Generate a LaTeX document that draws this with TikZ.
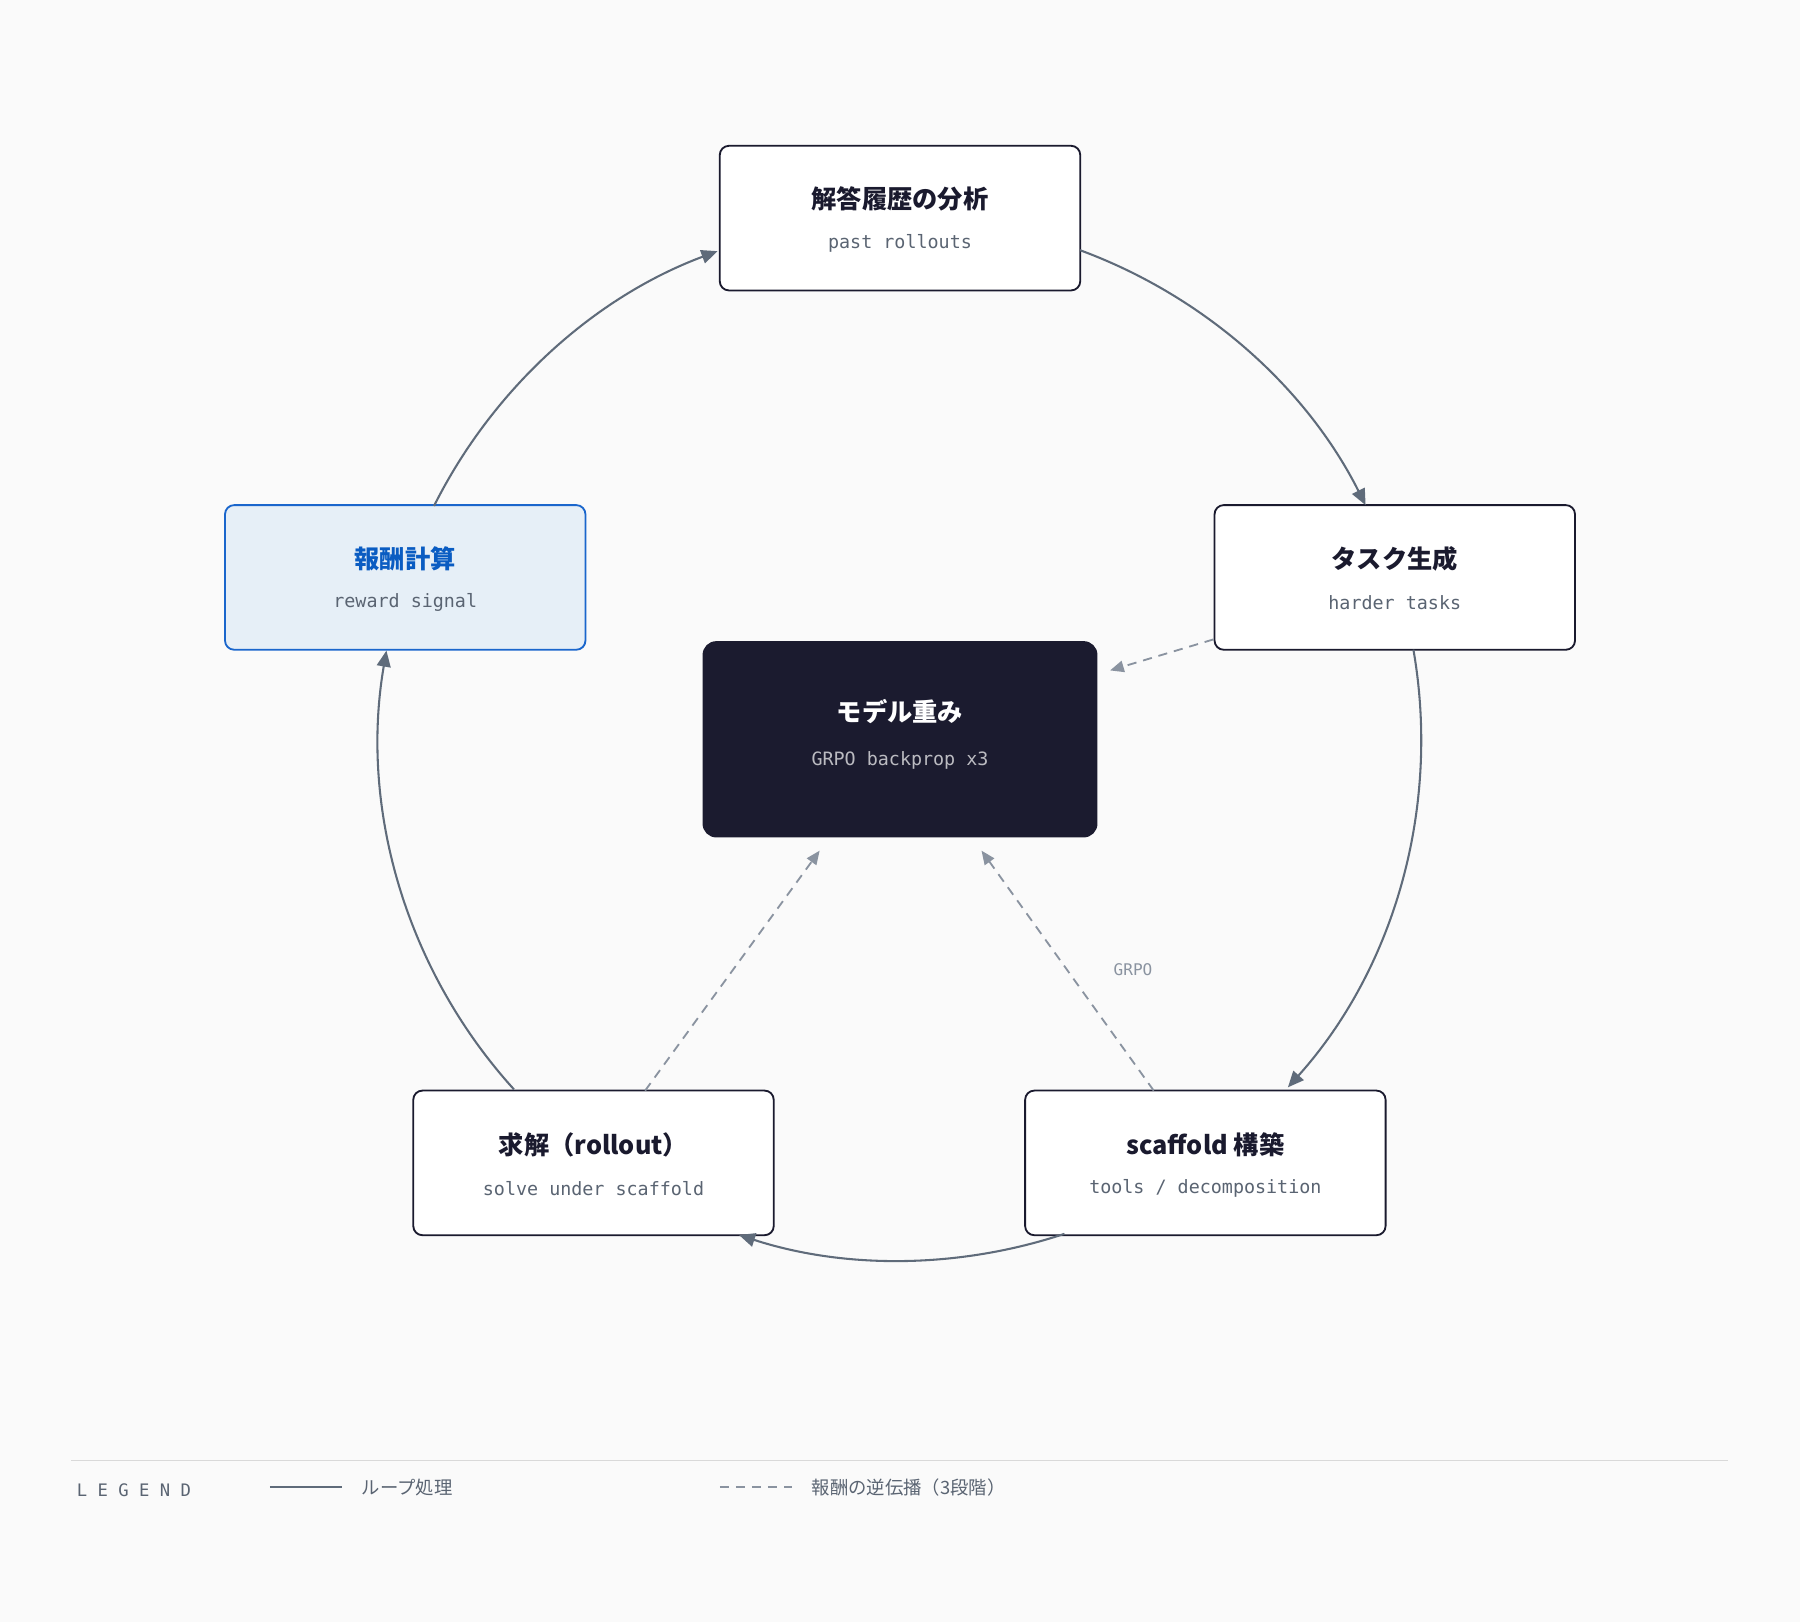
\documentclass[tikz,border=0pt]{standalone}
\usepackage{fontspec}
\setmainfont{Noto Sans CJK JP}
\newfontfamily\jp{Noto Sans CJK JP}
\setmonofont{DejaVu Sans Mono}
\usetikzlibrary{arrows.meta,calc}
\definecolor{bg}{HTML}{FAFAFA}
\definecolor{ink}{HTML}{1A1A2E}
\definecolor{dark}{HTML}{1B1B2F}
\definecolor{sub}{HTML}{5A6472}
\definecolor{arr}{HTML}{5F6B7A}
\definecolor{dsh}{HTML}{8A93A0}
\definecolor{rfill}{HTML}{E6EFF7}
\definecolor{rline}{HTML}{1A66CC}
\definecolor{rtext}{HTML}{0A5CC2}
\begin{document}
\begin{tikzpicture}[x=0.5pt,y=-0.5pt,
 box/.style={draw=ink,line width=0.8pt,fill=white,rounded corners=4pt,minimum width=157pt,minimum height=63pt},
 ttl/.style={font=\jp\bfseries\fontsize{11}{13}\selectfont,text=ink},
 st/.style={font=\ttfamily\fontsize{8}{10}\selectfont,text=sub},
 loop/.style={draw=arr,line width=0.9pt,-{Triangle[length=7pt,width=6pt]}},
 back/.style={draw=dsh,line width=0.8pt,dash pattern=on 4pt off 3pt,-{Triangle[length=6pt,width=5pt]}}]
\fill[bg] (0,0) rectangle (1568,1413);
\useasboundingbox (0,0) rectangle (1568,1413);
\coordinate (c) at (784,644);
% nodes
\node[box] (top) at (784,190) {};
\node[ttl] at (784,173) {解答履歴の分析};
\node[st] at (784,212) {past rollouts};
\node[box] (right) at (1215,503) {};
\node[ttl] at (1215,487) {タスク生成};
\node[st] at (1215,525) {harder tasks};
\node[box,fill=rfill,draw=rline] (left) at (353,503) {};
\node[ttl,text=rtext] at (353,487) {報酬計算};
\node[st] at (353,525) {reward signal};
\node[box] (bl) at (517,1013) {};
\node[ttl] at (517,997) {求解（rollout）};
\node[st] at (517,1035) {solve under scaffold};
\node[box] (br) at (1050,1013) {};
\node[ttl] at (1050,997) {scaffold 構築};
\node[st] at (1050,1035) {tools / decomposition};
\node[fill=dark,rounded corners=6pt,minimum width=172pt,minimum height=85.5pt] (m) at (784,644) {};
\node[ttl,text=white] at (784,620) {モデル重み};
\node[st,text=white!70!dark] at (784,662) {GRPO backprop x3};
% loop arcs
\draw[loop] ($(c)+(-69.8:454)$) arc[start angle=-69.8,end angle=-26.7,radius=454];
\draw[loop] ($(c)+(-9.9:454)$) arc[start angle=-9.9,end angle=41.9,radius=454];
\draw[loop] ($(c)+(71.6:454)$) arc[start angle=71.6,end angle=108,radius=454];
\draw[loop] ($(c)+(137.8:454)$) arc[start angle=137.8,end angle=189.8,radius=454];
\draw[loop] ($(c)+(-153.4:454)$) arc[start angle=-153.4,end angle=-110.5,radius=454];
% dashed
\coordinate (d1) at (1057,557); \coordinate (e1) at (967,584);
\coordinate (d2) at (562,950); \coordinate (e2) at (714,741);
\coordinate (d3) at (1005,950); \coordinate (e3) at (855,741);
\draw[back] (d1) -- (e1);
\draw[back] (d2) -- (e2);
\draw[back] (d3) -- (e3);
\node[font=\ttfamily\fontsize{7}{9}\selectfont,text=dsh] (g) at (987,845) {GRPO};
% legend
\draw[draw=black!15,line width=0.6pt] (62,1272) -- (1505,1272);
\node[anchor=west,font=\ttfamily\fontsize{7.5}{9}\selectfont,text=sub] (lg) at (60,1298) {L E G E N D};
\coordinate (l1) at (235,1295); \coordinate (l2) at (298,1295);
\draw[arr,line width=0.9pt] (l1) -- (l2);
\node[anchor=west,font=\jp\fontsize{8}{10}\selectfont,text=sub] (t1) at (308,1296) {ループ処理};
\coordinate (l3) at (627,1295); \coordinate (l4) at (690,1295);
\draw[dsh,line width=0.8pt,dash pattern=on 4pt off 3pt] (l3) -- (l4);
\node[anchor=west,font=\jp\fontsize{8}{10}\selectfont,text=sub] (t2) at (700,1296) {報酬の逆伝播（3段階）};
\end{tikzpicture}
\end{document}
